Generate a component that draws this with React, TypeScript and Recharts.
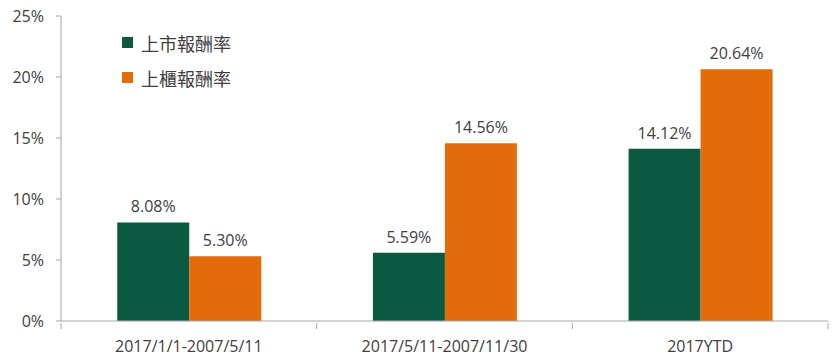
import { BarChart, Bar, XAxis, YAxis, LabelList } from "recharts";

const periods = ["2017/1/1-2007/5/11", "2017/5/11-2007/11/30", "2017YTD"];
const listed = [8.08, 5.59, 14.12];
const otc = [5.3, 14.56, 20.64];
const yTicks = [0, 5, 10, 15, 20, 25];
const seriesNames = ["上市報酬率", "上櫃報酬率"];

const data = periods.map((p, i) => ({ period: p, listed: listed[i], otc: otc[i] }));

const GREEN = "#0B5940";
const ORANGE = "#E36C0A";
const AXIS = "#A6A6A6";
const TEXT = "#404040";
const FONT = "'Open Sans', 'Noto Sans CJK TC', sans-serif";

const CategoryTick = (props: any) => {
  const { x, y, payload, index, width } = props;
  const band = (width || 767) / periods.length;
  return (
    <g>
      <line x1={x - band / 2} y1={y - 6} x2={x - band / 2} y2={y} stroke={AXIS} />
      {index === periods.length - 1 && (
        <line x1={x + band / 2} y1={y - 6} x2={x + band / 2} y2={y} stroke={AXIS} />
      )}
      <text x={x} y={y + 23} textAnchor="middle" fill={TEXT} fontSize={16} fontFamily={FONT}>
        {payload.value}
      </text>
    </g>
  );
};

// legend drawn as an overlay so it doesn't push the plot area around
const LegendBox = () => (
  <div
    style={{
      position: "absolute",
      left: 122,
      top: 25,
      fontFamily: "'Noto Sans CJK TC', sans-serif",
      fontSize: 18,
      color: TEXT,
    }}
  >
    {seriesNames.map((name, i) => (
      <div key={name} style={{ display: "flex", alignItems: "center", height: 35 }}>
        <span
          style={{
            width: 11,
            height: 11,
            background: i === 0 ? GREEN : ORANGE,
            marginRight: 8,
            display: "inline-block",
          }}
        />
        <span>{name}</span>
      </div>
    ))}
  </div>
);

const fmt = (v: any) => `${Number(v).toFixed(2)}%`;

export default function App() {
  return (
    <div style={{ position: "absolute", left: 0, top: 0, width: 840, height: 361, background: "#fff" }}>
      <BarChart
        width={840}
        height={361}
        data={data}
        margin={{ top: 16, right: 12, bottom: 0, left: 0 }}
        barCategoryGap="22%"
        barGap={0}
      >
        <XAxis
          dataKey="period"
          height={40}
          stroke={AXIS}
          tickLine={false}
          tick={<CategoryTick />}
        />
        <YAxis
          width={61}
          domain={[0, 25]}
          ticks={yTicks}
          stroke={AXIS}
          tickSize={5}
          tickMargin={12}
          tickFormatter={(v) => `${v}%`}
          tick={{ fill: TEXT, fontSize: 16, fontFamily: FONT }}
        />
        <Bar dataKey="listed" name={seriesNames[0]} fill={GREEN} isAnimationActive={false}>
          <LabelList dataKey="listed" position="top" offset={10} formatter={fmt} fill={TEXT} fontSize={16} fontFamily={FONT} />
        </Bar>
        <Bar dataKey="otc" name={seriesNames[1]} fill={ORANGE} isAnimationActive={false}>
          <LabelList dataKey="otc" position="top" offset={10} formatter={fmt} fill={TEXT} fontSize={16} fontFamily={FONT} />
        </Bar>
      </BarChart>
      <LegendBox />
    </div>
  );
}
